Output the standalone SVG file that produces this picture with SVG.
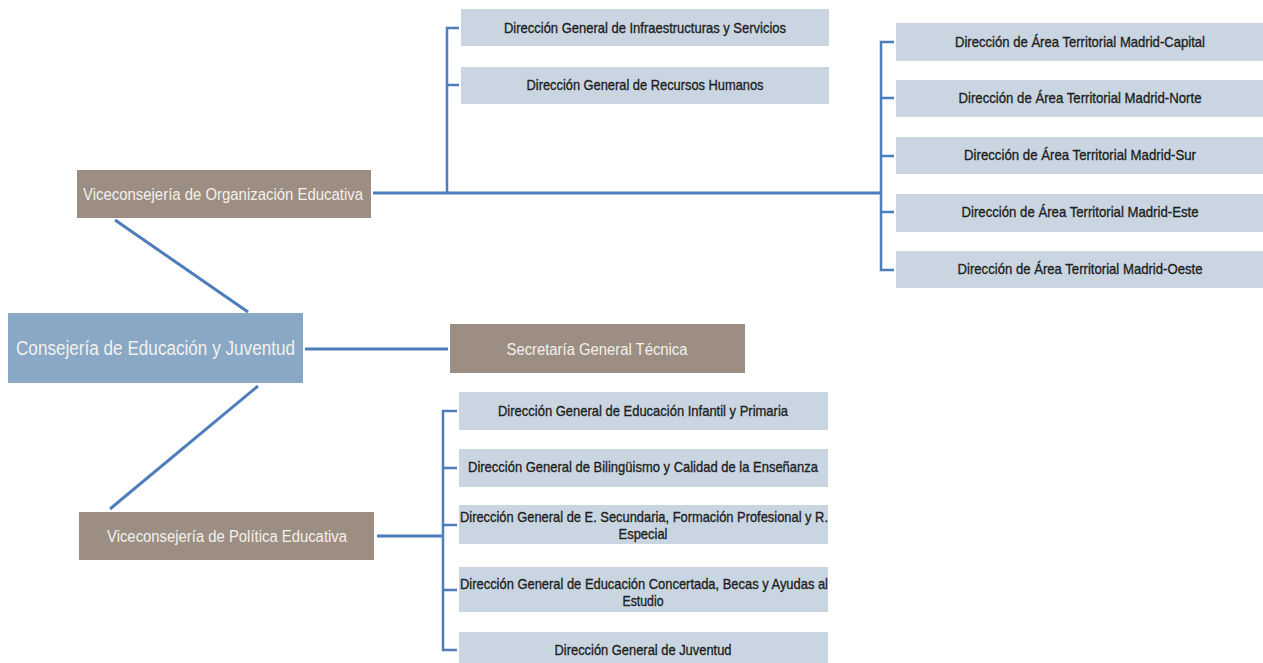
<svg xmlns="http://www.w3.org/2000/svg" width="1263" height="663" viewBox="0 0 1263 663">
<style>
.bg{fill:#ffffff}
.brown{fill:#9c8e82}
.main{fill:#88a8c6}
.sub{fill:#c9d6e1}
.lt{font-family:"Liberation Sans",Arial,sans-serif;fill:#f4f1ec;text-anchor:middle}
.dk{font-family:"Liberation Sans",Arial,sans-serif;fill:#1e1e1e;stroke:#1e1e1e;stroke-width:0.35;font-size:15px;text-anchor:middle}
.ln{stroke:#4d7dbb;stroke-width:3;fill:none}
.br{stroke:#4d7dbb;stroke-width:2.5;fill:none}
</style>
<rect class="bg" x="0" y="0" width="1263" height="663"/>
<g id="connectors">
<line class="ln" x1="115" y1="220" x2="248" y2="312"/>
<line class="ln" x1="258" y1="386" x2="110" y2="509"/>
<line class="ln" x1="305" y1="349" x2="448" y2="349"/>
<line class="ln" x1="373" y1="193" x2="881" y2="193"/>
<path class="br" d="M459 28 H447 V193 M447 85 H459"/>
<path class="br" d="M894 42 H881 V270 H894 M881 98 H894 M881 156 H894 M881 212 H894"/>
<line class="ln" x1="377" y1="536" x2="443" y2="536"/>
<path class="br" d="M457 411 H443 V650 H457 M443 468 H457 M443 525 H457 M443 590 H457"/>
</g>
<g id="consejeria">
<rect class="main" x="8" y="313" width="295" height="70"/>
<text class="lt" x="155.5" y="355" font-size="20" textLength="279" lengthAdjust="spacingAndGlyphs">Consejería de Educación y Juventud</text>
</g>
<g id="vice-organizacion">
<rect class="brown" x="77" y="170" width="294" height="48"/>
<text class="lt" x="223" y="199.5" font-size="16" textLength="280" lengthAdjust="spacingAndGlyphs">Viceconsejería de Organización Educativa</text>
</g>
<g id="secretaria">
<rect class="brown" x="450" y="324" width="295" height="49"/>
<text class="lt" x="597" y="354.5" font-size="16" textLength="181" lengthAdjust="spacingAndGlyphs">Secretaría General Técnica</text>
</g>
<g id="vice-politica">
<rect class="brown" x="79" y="512" width="295" height="48"/>
<text class="lt" x="227" y="541.5" font-size="16" textLength="240" lengthAdjust="spacingAndGlyphs">Viceconsejería de Política Educativa</text>
</g>
<g id="dg-infraestructuras">
<rect class="sub" x="461" y="9" width="368" height="37"/>
<text class="dk" x="645" y="33" textLength="282" lengthAdjust="spacingAndGlyphs">Dirección General de Infraestructuras y Servicios</text>
</g>
<g id="dg-rrhh">
<rect class="sub" x="461" y="67" width="368" height="37"/>
<text class="dk" x="645" y="90" textLength="237" lengthAdjust="spacingAndGlyphs">Dirección General de Recursos Humanos</text>
</g>
<g id="dat-capital">
<rect class="sub" x="896" y="23" width="367" height="38"/>
<text class="dk" x="1080" y="47" textLength="250" lengthAdjust="spacingAndGlyphs">Dirección de Área Territorial Madrid-Capital</text>
</g>
<g id="dat-norte">
<rect class="sub" x="896" y="80" width="367" height="37"/>
<text class="dk" x="1080" y="103" textLength="243" lengthAdjust="spacingAndGlyphs">Dirección de Área Territorial Madrid-Norte</text>
</g>
<g id="dat-sur">
<rect class="sub" x="896" y="137" width="367" height="37"/>
<text class="dk" x="1080" y="160" textLength="232" lengthAdjust="spacingAndGlyphs">Dirección de Área Territorial Madrid-Sur</text>
</g>
<g id="dat-este">
<rect class="sub" x="896" y="194" width="367" height="38"/>
<text class="dk" x="1080" y="217" textLength="237" lengthAdjust="spacingAndGlyphs">Dirección de Área Territorial Madrid-Este</text>
</g>
<g id="dat-oeste">
<rect class="sub" x="896" y="251" width="367" height="37"/>
<text class="dk" x="1080" y="274" textLength="245" lengthAdjust="spacingAndGlyphs">Dirección de Área Territorial Madrid-Oeste</text>
</g>
<g id="dg-infantil">
<rect class="sub" x="459" y="392" width="369" height="38"/>
<text class="dk" x="643" y="416" textLength="290" lengthAdjust="spacingAndGlyphs">Dirección General de Educación Infantil y Primaria</text>
</g>
<g id="dg-bilinguismo">
<rect class="sub" x="459" y="449" width="369" height="38"/>
<text class="dk" x="643" y="472" textLength="350" lengthAdjust="spacingAndGlyphs">Dirección General de Bilingüismo y Calidad de la Enseñanza</text>
</g>
<g id="dg-secundaria">
<rect class="sub" x="459" y="505" width="369" height="39"/>
<text class="dk" x="644" y="522" textLength="368" lengthAdjust="spacingAndGlyphs">Dirección General de E. Secundaria, Formación Profesional y R.</text>
<text class="dk" x="643" y="539" textLength="49" lengthAdjust="spacingAndGlyphs">Especial</text>
</g>
<g id="dg-concertada">
<rect class="sub" x="459" y="567" width="369" height="45"/>
<text class="dk" x="644" y="589" textLength="368" lengthAdjust="spacingAndGlyphs">Dirección General de Educación Concertada, Becas y Ayudas al</text>
<text class="dk" x="643" y="606" textLength="41" lengthAdjust="spacingAndGlyphs">Estudio</text>
</g>
<g id="dg-juventud">
<rect class="sub" x="459" y="632" width="369" height="31"/>
<text class="dk" x="643" y="655" textLength="177" lengthAdjust="spacingAndGlyphs">Dirección General de Juventud</text>
</g>
</svg>
